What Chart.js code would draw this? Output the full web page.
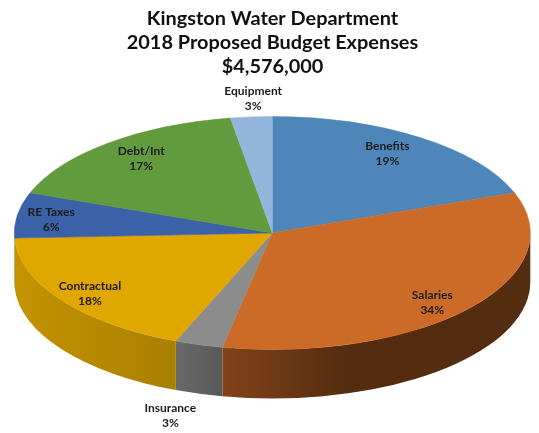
<!DOCTYPE html>
<html>
<head>
<meta charset="utf-8">
<title>Kingston Water Department</title>
<script src="https://cdn.jsdelivr.net/npm/chart.js@4/dist/chart.umd.min.js"></script>
<style>
	html, body { margin: 0; padding: 0; background: #fff; }
	canvas { display: block; }
</style>
</head>
<body>
<canvas id="budgetChart" width="539" height="433"></canvas>
<script>
	const categories = ["Benefits", "Salaries", "Insurance", "Contractual", "RE Taxes", "Debt/Int", "Equipment"];
	const percents = [19.4, 33.7, 3.0, 18.2, 6.3, 16.8, 2.6];
	const titleLines = ["Kingston Water Department", "2018 Proposed Budget Expenses", "$4,576,000"];

	const topColors = ["#4f86b9", "#cc6b27", "#8c8c8c", "#dfa700", "#3b62a8", "#629a3e", "#94b6dd"];

	// the flat pie gets squashed into this ellipse
	const disc = { x: 272.3, y: 233, rx: 258, ry: 116.5, depth: 49 };

	// label centres, in disc radius units from the centre
	const labelSpots = [[0.446, -0.688], [0.62, 0.592], [-0.395, 1.56], [-0.707, 0.52], [-0.857, -0.12], [-0.508, -0.644], [-0.074, -1.16]];

	// how dark the rim is going from left to right
	const rimShade = [[0, 0.88], [0.31, 0.76], [0.405, 0.63], [0.65, 0.41], [1, 0.41]];

	function shadeColor(hex, factor) {
		const r = Math.round(parseInt(hex.slice(1, 3), 16) * factor);
		const g = Math.round(parseInt(hex.slice(3, 5), 16) * factor);
		const b = Math.round(parseInt(hex.slice(5, 7), 16) * factor);
		return "rgb(" + r + "," + g + "," + b + ")";
	}

	function rimGradient(ctx, hex) {
		const gradient = ctx.createLinearGradient(disc.x - disc.rx, 0, disc.x + disc.rx, 0);
		rimShade.forEach(function(stop) {
			gradient.addColorStop(stop[0], shadeColor(hex, stop[1]));
		});
		return gradient;
	}

	const pie3d = {
		id: "pie3d",
		beforeDatasetsDraw: function(chart) {
			const ctx = chart.ctx;
			const arcs = chart.getDatasetMeta(0).data;

			// rim first, only the part of each slice that faces the viewer
			arcs.forEach(function(arc, i) {
				const from = Math.max(arc.startAngle, 0);
				const to = Math.min(arc.endAngle, Math.PI);
				if (to <= from) {
					return;
				}
				ctx.save();
				ctx.beginPath();
				ctx.ellipse(disc.x, disc.y, disc.rx, disc.ry, 0, from, to);
				ctx.ellipse(disc.x, disc.y + disc.depth, disc.rx, disc.ry, 0, to, from, true);
				ctx.closePath();
				ctx.fillStyle = rimGradient(ctx, topColors[i]);
				ctx.fill();
				ctx.restore();
			});

			const arc = arcs[0];
			ctx.save();
			ctx.translate(disc.x, disc.y);
			ctx.scale(disc.rx / arc.outerRadius, disc.ry / arc.outerRadius);
			ctx.translate(-arc.x, -arc.y);
		},
		afterDatasetsDraw: function(chart) {
			const ctx = chart.ctx;
			ctx.restore();

			ctx.save();
			ctx.font = "bold 12px Lato";
			ctx.textAlign = "center";
			ctx.textBaseline = "middle";
			ctx.fillStyle = "#1c1c1c";
			categories.forEach(function(name, i) {
				const x = disc.x + labelSpots[i][0] * disc.rx;
				const y = disc.y + labelSpots[i][1] * disc.ry;
				ctx.fillText(name, x, y - 7);
				ctx.fillText(Math.round(percents[i]) + "%", x, y + 8);
			});
			ctx.restore();
		}
	};

	new Chart(document.getElementById("budgetChart").getContext("2d"), {
		type: "pie",
		data: {
			labels: categories,
			datasets: [
				{
					data: percents,
					backgroundColor: topColors,
					borderColor: topColors,
					borderWidth: 0.5,
				},
			],
		},
		options: {
			responsive: false,
			animation: false,
			events: [],
			layout: {
				padding: {
					left: 6,
					top: 3,
				},
			},
			plugins: {
				legend: {
					display: false,
				},
				tooltip: {
					enabled: false,
				},
				title: {
					display: true,
					text: titleLines,
					color: "#111111",
					font: {
						family: "Lato",
						size: 19.9,
						weight: "bold",
						lineHeight: 1.2,
					},
					padding: {
						top: 4,
						bottom: 10,
					},
				},
			},
		},
		plugins: [pie3d],
	});
</script>
</body>
</html>
